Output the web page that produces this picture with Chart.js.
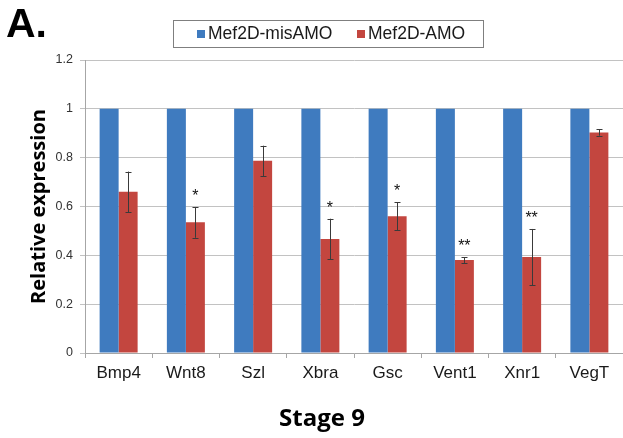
<!DOCTYPE html>
<html>
<head>
<meta charset="utf-8">
<script src="https://cdn.jsdelivr.net/npm/chart.js@4/dist/chart.umd.min.js"></script>
<style>
  html, body { margin: 0; padding: 0; background: #ffffff; }
  #wrap { width: 623px; height: 438px; position: relative; }
</style>
</head>
<body>
<div id="wrap"><canvas id="chart" width="623" height="438"></canvas></div>
<script>
// Gene markers measured at stage 9
const categories = ['Bmp4', 'Wnt8', 'Szl', 'Xbra', 'Gsc', 'Vent1', 'Xnr1', 'VegT'];
// Control morpholino, normalised to 1
const misAmoValues = [1, 1, 1, 1, 1, 1, 1, 1];
// Mef2D morpholino knockdown
const amoValues = [0.66, 0.535, 0.787, 0.467, 0.56, 0.381, 0.393, 0.903];
// Error bar half-lengths for the knockdown series
const amoErrors = [0.083, 0.063, 0.062, 0.083, 0.058, 0.012, 0.115, 0.013];
// Significance marks above the knockdown bars
const significance = ['', '*', '', '*', '*', '**', '**', ''];
const yTicks = [0, 0.2, 0.4, 0.6, 0.8, 1, 1.2];
const seriesNames = ['Mef2D-misAMO', 'Mef2D-AMO'];
const xTitle = 'Stage 9';

const BLUE = '#3f7bbf';
const RED = '#c3463f';

// Error bars and significance stars for the knockdown series
const errorBarPlugin = {
  id: 'errorBars',
  afterDatasetsDraw(chart) {
    const ctx = chart.ctx;
    const y = chart.scales.y;
    const meta = chart.getDatasetMeta(1);
    ctx.save();
    meta.data.forEach((bar, i) => {
      const v = amoValues[i];
      const e = amoErrors[i];
      const yTop = y.getPixelForValue(v + e);
      const yBot = y.getPixelForValue(v - e);
      const x = Math.round(bar.x) + 0.5;
      ctx.strokeStyle = '#3a3a3a';
      ctx.lineWidth = 1;
      ctx.beginPath();
      ctx.moveTo(x, yTop);
      ctx.lineTo(x, yBot);
      ctx.moveTo(x - 3, Math.round(yTop) + 0.5);
      ctx.lineTo(x + 3, Math.round(yTop) + 0.5);
      ctx.moveTo(x - 3, Math.round(yBot) + 0.5);
      ctx.lineTo(x + 3, Math.round(yBot) + 0.5);
      ctx.stroke();
      if (significance[i]) {
        ctx.fillStyle = '#111111';
        ctx.font = '16px "Liberation Sans", Arial, sans-serif';
        ctx.textAlign = 'center';
        ctx.textBaseline = 'alphabetic';
        ctx.fillText(significance[i], bar.x, yTop - 6);
      }
    });
    ctx.restore();
  }
};

// Panel letter, boxed legend and the stage caption under the axis
const decorPlugin = {
  id: 'decor',
  afterDraw(chart) {
    const ctx = chart.ctx;
    ctx.save();
    ctx.fillStyle = '#000000';
    ctx.font = 'bold 41px "Liberation Sans", Arial, sans-serif';
    ctx.textAlign = 'left';
    ctx.textBaseline = 'alphabetic';
    ctx.fillText('A.', 6, 37);

    // stage caption
    ctx.font = 'bold 24px "Open Sans", sans-serif';
    ctx.textAlign = 'center';
    ctx.textBaseline = 'middle';
    ctx.fillText(xTitle, 322, 419);

    // legend frame
    ctx.strokeStyle = '#7f7f7f';
    ctx.lineWidth = 1;
    ctx.strokeRect(173.5, 20.5, 310, 27);

    const entries = [
      { x: 197, text: chart.data.datasets[0].label, color: chart.data.datasets[0].backgroundColor },
      { x: 357, text: chart.data.datasets[1].label, color: chart.data.datasets[1].backgroundColor }
    ];
    ctx.font = '17.5px "Liberation Sans", Arial, sans-serif';
    ctx.textAlign = 'left';
    ctx.textBaseline = 'middle';
    entries.forEach(en => {
      ctx.fillStyle = en.color;
      ctx.fillRect(en.x, 30, 8, 8);
      ctx.fillStyle = '#1a1a1a';
      ctx.fillText(en.text, en.x + 11, 34.5);
    });
    ctx.restore();
  }
};

new Chart(document.getElementById('chart'), {
  type: 'bar',
  data: {
    labels: categories,
    datasets: [
      { label: seriesNames[0], data: misAmoValues, backgroundColor: BLUE, borderWidth: 0 },
      { label: seriesNames[1], data: amoValues, backgroundColor: RED, borderWidth: 0 }
    ]
  },
  options: {
    responsive: false,
    animation: false,
    devicePixelRatio: 1,
    layout: { padding: { left: 27, right: 0, top: 60, bottom: 0 } },
    datasets: {
      bar: { categoryPercentage: 0.565, barPercentage: 1.0 }
    },
    plugins: {
      legend: { display: false },
      tooltip: { enabled: false }
    },
    scales: {
      x: {
        grid: {
          drawOnChartArea: false,
          drawTicks: true,
          tickLength: 5,
          offset: true,
          color: '#a6a6a6'
        },
        border: { display: true, color: '#a6a6a6' },
        ticks: {
          color: '#1a1a1a',
          font: { family: '"Liberation Sans", Arial, sans-serif', size: 17 },
          padding: 5,
          maxRotation: 0
        },
        title: { display: false },
        afterFit(scale) { scale.height = 85; }
      },
      y: {
        min: 0,
        max: 1.2,
        afterBuildTicks(scale) { scale.ticks = yTicks.map(v => ({ value: v })); },
        grid: {
          color: '#c2c2c2',
          tickLength: 5,
          drawTicks: true
        },
        border: { display: true, color: '#a6a6a6' },
        ticks: {
          color: '#333333',
          font: { family: '"Liberation Sans", Arial, sans-serif', size: 12.5 },
          padding: 7,
          callback: v => String(v)
        },
        title: {
          display: true,
          text: 'Relative expression',
          color: '#000000',
          font: { family: '"Open Sans", sans-serif', size: 20, weight: 'bold' },
          padding: { top: 0, bottom: 0 }
        },
        afterFit(scale) { scale.width = 58; }
      }
    }
  },
  plugins: [errorBarPlugin, decorPlugin]
});
</script>
</body>
</html>
